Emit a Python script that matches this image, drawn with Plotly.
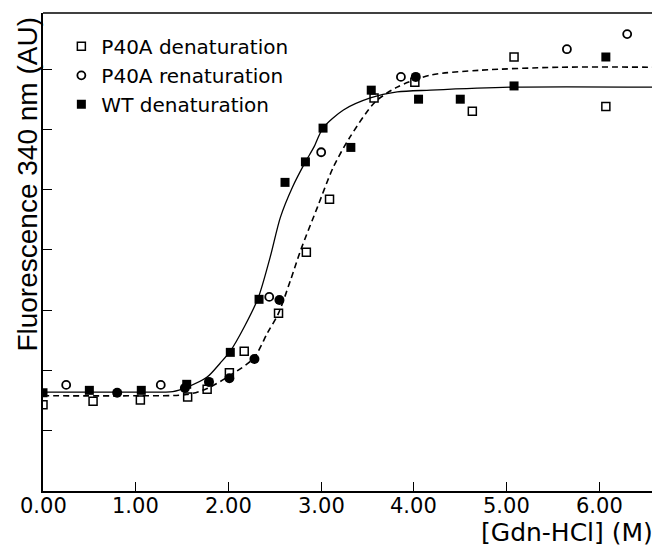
import plotly.graph_objects as go

# P40A denaturation (open squares)
p40a_den_x = [0.0, 0.54, 1.05, 1.56, 1.77, 2.01, 2.17, 2.54, 2.84, 3.09, 3.57, 4.01, 4.63, 5.08, 6.07]
p40a_den_y = [1.43, 1.49, 1.51, 1.56, 1.69, 1.96, 2.32, 2.95, 3.96, 4.84, 6.52, 6.78, 6.30, 7.20, 6.38]

# P40A renaturation (open circles)
p40a_ren_x = [0.25, 1.27, 2.44, 3.00, 3.86, 5.65, 6.30]
p40a_ren_y = [1.76, 1.76, 3.22, 5.62, 6.87, 7.33, 7.58]

# WT denaturation (filled squares)
wt_den_x = [0.0, 0.50, 1.06, 1.55, 2.02, 2.33, 2.61, 2.83, 3.02, 3.32, 3.54, 4.05, 4.50, 5.08, 6.07]
wt_den_y = [1.63, 1.67, 1.67, 1.77, 2.30, 3.18, 5.12, 5.46, 6.02, 5.70, 6.65, 6.50, 6.50, 6.72, 7.20]

# filled circles (unlabelled)
filled_circ_x = [0.80, 1.53, 1.79, 2.01, 2.28, 2.55, 4.02]
filled_circ_y = [1.63, 1.71, 1.81, 1.87, 2.19, 3.17, 6.87]

# fitted curves
solid_x = [0.0, 1.0, 1.40, 1.55, 1.77, 1.91, 2.02, 2.17, 2.32, 2.45, 2.56, 2.69, 2.83, 2.92, 3.02, 3.24,
           3.53, 3.82, 4.18, 5.07, 6.65]
solid_y = [1.64, 1.64, 1.65, 1.72, 1.89, 2.12, 2.32, 2.72, 3.20, 3.88, 4.54, 5.04, 5.46, 5.70, 6.02, 6.32,
           6.52, 6.62, 6.65, 6.70, 6.70]
dash_x = [0.0, 1.0, 1.55, 1.77, 2.02, 2.27, 2.42, 2.54, 2.67, 2.78, 2.96, 3.13, 3.31, 3.58, 3.82, 4.18,
          4.71, 5.57, 6.65]
dash_y = [1.58, 1.58, 1.60, 1.70, 1.92, 2.20, 2.62, 2.95, 3.50, 4.00, 4.71, 5.37, 5.87, 6.45, 6.70, 6.90,
          6.98, 7.03, 7.03]

x_tickvals = [0, 1, 2, 3, 4, 5, 6]
x_ticktext = ["0.00", "1.00", "2.00", "3.00", "4.00", "5.00", "6.00"]
y_tickvals = [0, 1, 2, 3, 4, 5, 6, 7]

fig = go.Figure()

fig.add_trace(go.Scatter(x=solid_x, y=solid_y, mode="lines",
                         line=dict(color="black", width=1.3, shape="spline", smoothing=0.8),
                         showlegend=False, hoverinfo="skip"))
fig.add_trace(go.Scatter(x=dash_x, y=dash_y, mode="lines",
                         line=dict(color="black", width=1.6, dash="6px,4px", shape="spline", smoothing=0.8),
                         showlegend=False, hoverinfo="skip"))

fig.add_trace(go.Scatter(x=p40a_den_x, y=p40a_den_y, mode="markers", name="P40A denaturation",
                         marker=dict(symbol="square-open", size=8, color="black", line=dict(width=1.5))))
fig.add_trace(go.Scatter(x=p40a_ren_x, y=p40a_ren_y, mode="markers", name="P40A renaturation",
                         marker=dict(symbol="circle-open", size=8, color="black", line=dict(width=1.8))))
fig.add_trace(go.Scatter(x=wt_den_x, y=wt_den_y, mode="markers", name="WT denaturation",
                         marker=dict(symbol="square", size=9, color="black")))
fig.add_trace(go.Scatter(x=filled_circ_x, y=filled_circ_y, mode="markers", showlegend=False,
                         marker=dict(symbol="circle", size=10, color="black")))

# x tick labels placed close under the axis
tick_annotations = [
    dict(text=t, x=v, xref="x", yref="paper", y=0, yanchor="top", xanchor="center", yshift=-1,
         showarrow=False, font=dict(family="DejaVu Sans", size=21))
    for v, t in zip(x_tickvals, x_ticktext)
]

# the page body adds an 8px offset; the figure is sized to compensate
fig.update_layout(
    width=652, height=539,
    margin=dict(l=35, r=5, t=5, b=56),
    plot_bgcolor="white", paper_bgcolor="white",
    font=dict(family="DejaVu Sans", color="black"),
    legend=dict(x=0.03, y=0.971, xanchor="left", yanchor="top", bgcolor="rgba(0,0,0,0)",
                font=dict(family="DejaVu Sans", size=20), tracegroupgap=0, itemwidth=30),
    xaxis=dict(range=[0, 6.6], tickvals=x_tickvals, showticklabels=False, ticks="inside", ticklen=9,
               tickcolor="black", showline=True, linecolor="black", linewidth=1.5, showgrid=False,
               zeroline=False),
    yaxis=dict(range=[0, 7.93], tickvals=y_tickvals, showticklabels=False, ticks="inside", ticklen=9,
               tickcolor="black", showline=True, linecolor="black", linewidth=1.5, showgrid=False,
               zeroline=False),
    shapes=[
        dict(type="line", xref="paper", yref="paper", x0=0, x1=1, y0=1, y1=1, line=dict(color="black", width=1.5)),
        dict(type="line", xref="paper", yref="y", x0=1, x1=1, y0=0, y1=4.78, line=dict(color="black", width=1.5)),
    ],
    annotations=tick_annotations + [
        dict(text="Fluorescence 340 nm (AU)", textangle=-90, xref="paper", yref="paper", x=0, y=0.641,
             xanchor="center", yanchor="middle", xshift=-15, showarrow=False,
             font=dict(family="Liberation Sans", size=28)),
        dict(text="[Gdn-HCl] (M)", xref="paper", yref="paper", x=1, y=-0.086, xanchor="right", yanchor="middle",
             showarrow=False, font=dict(family="DejaVu Sans", size=25)),
    ],
)

fig.write_html("out.html")
